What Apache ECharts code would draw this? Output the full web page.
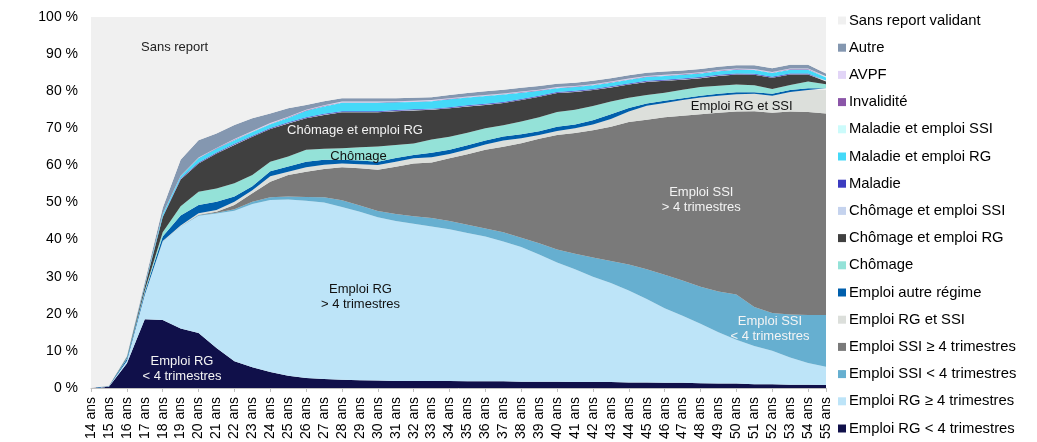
<!DOCTYPE html>
<html>
<head>
<meta charset="utf-8">
<script src="https://cdn.jsdelivr.net/npm/echarts@6/dist/echarts.min.js"></script>
<style>
  html, body { margin: 0; padding: 0; background: #ffffff; }
  #chart { width: 1037px; height: 442px; }
</style>
</head>
<body>
<div id="chart"></div>
<script>
// ---- Data (share of each status, in %, by age) ----
const ages = ["14 ans","15 ans","16 ans","17 ans","18 ans","19 ans","20 ans","21 ans","22 ans","23 ans","24 ans","25 ans","26 ans","27 ans","28 ans","29 ans","30 ans","31 ans","32 ans","33 ans","34 ans","35 ans","36 ans","37 ans","38 ans","39 ans","40 ans","41 ans","42 ans","43 ans","44 ans","45 ans","46 ans","47 ans","48 ans","49 ans","50 ans","51 ans","52 ans","53 ans","54 ans","55 ans"];

const emploiRGlt4 = [0,0.3,6.6,18.5,18.3,16.0,14.8,10.8,7.2,5.6,4.3,3.3,2.7,2.4,2.2,2.1,2.0,1.9,1.9,1.9,1.9,1.8,1.8,1.8,1.7,1.7,1.7,1.6,1.6,1.6,1.5,1.5,1.4,1.4,1.3,1.2,1.2,1.0,1.0,0.9,0.9,0.8];
const emploiRGge4 = [0,0.15,0.7,6.5,21.1,27.5,31.6,36.2,40.6,44.0,46.4,47.5,47.8,47.6,46.6,45.4,44.0,43.1,42.4,41.6,40.9,40.0,39.0,37.7,36.3,34.3,32.1,30.4,28.4,26.7,24.8,22.5,20.1,18.1,16.0,13.8,11.8,10.3,9.0,7.3,5.8,4.9];
const emploiSSIlt4 = [0,0,0,0,0.1,0.1,0.2,0.2,0.4,0.6,0.7,0.8,1.0,1.4,1.8,1.7,1.7,1.9,2.0,2.3,2.2,2.2,2.2,2.5,2.5,3.0,3.5,4.2,5.2,5.9,7.0,8.0,9.0,9.5,10.0,11.0,12.2,10.5,10.2,11.6,13.0,14.0];
const emploiSSIge4 = [0,0,0,0,0,0,0.1,0.3,1.1,2.3,4.2,5.8,6.8,7.6,8.9,10.0,11.1,12.7,14.2,15.0,16.9,19.0,21.2,23.0,25.5,28.2,30.9,32.5,34.3,36.2,38.4,40.3,42.5,44.4,46.5,48.2,49.3,52.8,54.0,54.7,54.7,54.3];
const emploiRGetSSI = [0,0,0,0.1,0.1,0.2,0.4,0.5,0.9,0.8,1.5,0.9,1.2,1.2,1.0,1.1,1.3,1.4,1.4,1.4,1.2,1.3,1.4,1.7,1.3,1.0,1.1,1.3,1.5,2.1,2.8,3.8,3.8,4.2,4.5,4.6,4.7,4.7,4.6,5.3,5.9,6.3];
const emploiAutreRegime = [0,0.05,0.5,0.7,1.2,2.7,2.2,2.2,1.4,1.1,1.3,1.4,1.5,1.3,1.0,1.0,0.9,1.0,0.9,1.2,1.1,1.1,1.1,1.1,1.1,1.0,1.1,1.0,1.2,1.3,1.0,0.6,0.6,0.5,0.5,0.5,0.5,0.4,0.5,0.5,0.5,0.5];
const chomage = [0,0.05,0.2,0.5,1.2,2.5,3.6,3.6,3.6,3.0,2.6,2.7,3.2,3.0,3.1,3.6,4.1,3.5,3.1,3.6,3.5,3.4,3.3,3.0,3.4,3.8,4.0,4.0,3.8,3.4,2.7,2.3,2.2,2.3,2.3,2.2,2.1,1.9,1.3,1.4,1.8,1.1];
const chomageEmploiRG = [0,0.05,0.3,1.0,4.0,7.2,7.6,9.4,10.3,10.3,8.8,8.9,8.5,9.1,9.7,9.4,9.2,9.1,8.9,8.0,7.7,7.1,6.3,6.0,5.8,5.5,5.1,4.8,4.3,3.8,3.6,3.5,3.2,2.7,2.4,2.6,2.7,2.8,3.0,2.8,1.9,0.7];
const chomageEmploiSSI = [0,0,0,0,0.05,0.1,0.1,0.1,0.1,0.1,0.1,0.1,0.1,0.1,0.1,0.1,0.1,0.1,0.1,0.1,0.1,0.1,0.1,0.1,0.1,0.1,0.1,0.1,0.1,0.1,0.1,0.1,0.1,0.1,0.1,0.1,0.1,0.1,0.1,0.1,0.1,0.1];
const maladie = [0,0,0,0.05,0.1,0.2,0.2,0.2,0.2,0.2,0.2,0.2,0.2,0.2,0.2,0.2,0.2,0.2,0.2,0.2,0.2,0.2,0.2,0.2,0.2,0.2,0.2,0.2,0.2,0.2,0.2,0.2,0.2,0.2,0.2,0.2,0.2,0.2,0.2,0.2,0.2,0.2];
const maladieEmploiRG = [0,0,0.1,0.35,0.65,0.6,1.1,1.0,1.0,1.0,1.0,1.2,1.7,2.0,2.3,2.3,2.3,2.1,2.0,2.0,2.1,2.1,2.1,2.0,1.7,1.3,1.0,1.0,1.0,1.0,1.0,1.0,1.0,1.0,1.0,1.0,1.0,1.0,1.0,1.0,1.0,0.8];
const maladieEmploiSSI = [0,0,0,0,0,0,0,0,0.05,0.05,0.05,0.05,0.05,0.05,0.05,0.05,0.05,0.05,0.05,0.05,0.05,0.05,0.05,0.05,0.05,0.05,0.05,0.05,0.05,0.05,0.05,0.05,0.05,0.05,0.05,0.05,0.05,0.05,0.05,0.05,0.05,0.05];
const invalidite = [0,0,0,0,0.05,0.05,0.1,0.1,0.1,0.1,0.1,0.1,0.1,0.1,0.1,0.1,0.1,0.1,0.1,0.1,0.1,0.1,0.1,0.1,0.1,0.1,0.1,0.1,0.1,0.1,0.1,0.1,0.1,0.1,0.1,0.1,0.1,0.1,0.1,0.1,0.1,0.1];
const avpf = [0,0,0,0,0.05,0.05,0.1,0.1,0.15,0.15,0.15,0.15,0.15,0.15,0.15,0.15,0.15,0.15,0.15,0.15,0.15,0.15,0.15,0.15,0.15,0.15,0.15,0.15,0.15,0.15,0.15,0.15,0.15,0.15,0.15,0.15,0.15,0.15,0.15,0.15,0.15,0.15];
const autre = [0,0,0.2,0.8,1.6,4.3,4.7,3.9,3.8,3.4,2.6,2.3,1.3,1.1,0.9,0.9,0.9,0.8,0.8,0.8,0.9,0.9,1.0,1.0,1.0,1.0,0.9,0.9,0.9,0.9,0.9,0.9,0.9,0.9,0.9,0.9,0.9,1.0,1.0,1.0,1.0,0.8];
const sansReport = [100,99.4,91.4,71.5,51.5,38.5,33.2,31.4,29.1,27.3,26.0,24.6,23.7,22.7,21.9,21.9,21.9,21.9,21.8,21.6,21.0,20.5,20.0,19.6,19.1,18.6,18.0,17.7,17.2,16.5,15.7,15.0,14.7,14.4,14.0,13.4,13.0,13.0,13.8,12.9,12.9,15.2];

const yTicks = [0,10,20,30,40,50,60,70,80,90,100];

// ---- Series definitions (bottom to top) ----
const seriesDefs = [
  { name: "Emploi RG < 4 trimestres", data: emploiRGlt4, color: "#10104a" },
  { name: "Emploi RG ≥ 4 trimestres", data: emploiRGge4, color: "#bde4f8" },
  { name: "Emploi SSI < 4 trimestres", data: emploiSSIlt4, color: "#66afd0" },
  { name: "Emploi SSI ≥ 4 trimestres", data: emploiSSIge4, color: "#7a7a7a" },
  { name: "Emploi RG et SSI", data: emploiRGetSSI, color: "#dcdfdb" },
  { name: "Emploi autre régime", data: emploiAutreRegime, color: "#005fac" },
  { name: "Chômage", data: chomage, color: "#94e2d8" },
  { name: "Chômage et emploi RG", data: chomageEmploiRG, color: "#404040" },
  { name: "Chômage et emploi SSI", data: chomageEmploiSSI, color: "#c5d3ee" },
  { name: "Maladie", data: maladie, color: "#3c3cc0" },
  { name: "Maladie et emploi RG", data: maladieEmploiRG, color: "#44d9f8" },
  { name: "Maladie et emploi SSI", data: maladieEmploiSSI, color: "#ccfbfb" },
  { name: "Invalidité", data: invalidite, color: "#8b55a8" },
  { name: "AVPF", data: avpf, color: "#e2d5f7" },
  { name: "Autre", data: autre, color: "#8497b0" },
  { name: "Sans report validant", data: sansReport, color: "#f0f0f0" }
];

const FONT = "'Liberation Sans', Arial, sans-serif";

const chart = echarts.init(document.getElementById('chart'), null, { renderer: 'canvas' });

function txt(x, y, text, fill, align, lh) {
  return {
    type: 'text', x: x, y: y, z: 100, zlevel: 0, silent: true,
    style: { text: text, fill: fill, font: '13px ' + FONT, lineHeight: lh || 15,
             textAlign: align || 'center', textVerticalAlign: 'middle' }
  };
}

const option = {
  animation: false,
  backgroundColor: '#ffffff',
  textStyle: { fontFamily: FONT },
  grid: { left: 91, right: 211, top: 17, bottom: 54, show: true, backgroundColor: '#f0f0f0', borderWidth: 0 },
  legend: {
    orient: 'vertical',
    left: 838,
    top: 13,
    padding: 0,
    itemWidth: 8,
    itemHeight: 8,
    itemGap: 12.2,
    icon: 'rect',
    selectedMode: false,
    data: seriesDefs.map(s => s.name).reverse(),
    textStyle: { fontFamily: FONT, fontSize: 14.8, color: '#000', lineHeight: 15, padding: [0, 0, 0, -2] }
  },
  xAxis: {
    type: 'category',
    boundaryGap: false,
    data: ages,
    axisLine: { show: true, lineStyle: { color: '#bfbfbf', width: 1 } },
    axisTick: { show: true, interval: 1, length: 4, lineStyle: { color: '#bfbfbf' } },
    axisLabel: { rotate: 90, interval: 0, fontSize: 14, color: '#000', margin: 9, fontFamily: FONT },
    splitLine: { show: false }
  },
  yAxis: {
    type: 'value',
    min: yTicks[0],
    max: yTicks[yTicks.length - 1],
    interval: yTicks[1] - yTicks[0],
    axisLine: { show: false },
    axisTick: { show: false },
    splitLine: { show: false },
    axisLabel: { formatter: '{value} %', fontSize: 14, color: '#000', margin: 13, fontFamily: FONT }
  },
  series: seriesDefs.map(s => ({
    name: s.name,
    type: 'line',
    stack: 'total',
    data: s.data,
    symbol: 'none',
    showSymbol: false,
    smooth: false,
    silent: true,
    itemStyle: { color: s.color },
    lineStyle: { width: 0, opacity: 0 },
    areaStyle: { color: s.color, opacity: 1 },
    emphasis: { disabled: true }
  })),
  graphic: {
    elements: [
      txt(141, 47.5, 'Sans report', '#222', 'left'),
      txt(355, 130.5, 'Chômage et emploi RG', '#f2f2f2'),
      txt(358.5, 156, 'Chômage', '#111'),
      txt(741.7, 106.7, 'Emploi RG et SSI', '#111'),
      txt(701.3, 200, 'Emploi SSI\n> 4 trimestres', '#f4f4f4', 'center', 14.6),
      txt(770, 329, 'Emploi SSI\n< 4 trimestres', '#f4f4f4', 'center', 14.6),
      txt(360.5, 296.8, 'Emploi RG\n> 4 trimestres', '#111'),
      txt(182, 368.8, 'Emploi RG\n< 4 trimestres', '#f4f4f4', 'center', 14.6)
    ]
  }
};

chart.setOption(option);
</script>
</body>
</html>
